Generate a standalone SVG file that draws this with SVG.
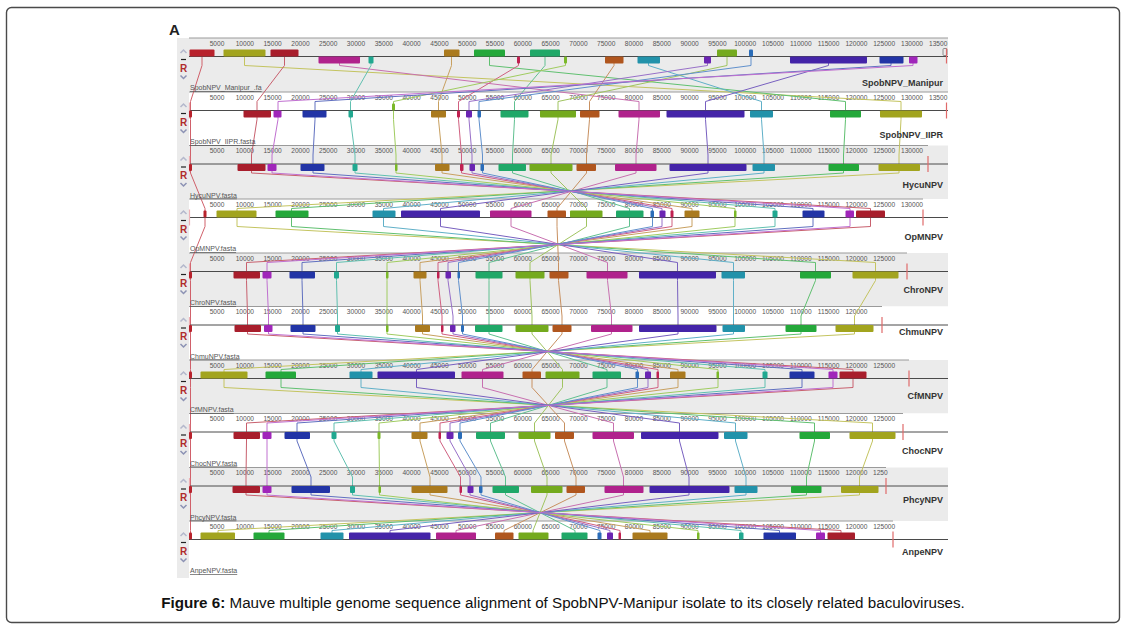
<svg xmlns="http://www.w3.org/2000/svg" xmlns:xlink="http://www.w3.org/1999/xlink" width="1126" height="631" viewBox="0 0 1126 631">
<style>
.bg-g{fill:#ebebeb}.bg-w{fill:#ffffff}
.seq{stroke:#4a4a4a;stroke-width:1}
.rul{stroke:#9a9a9a;stroke-width:1}
.tk{font-family:"Liberation Sans",Arial,sans-serif;font-size:6.6px;fill:#555;text-anchor:middle}
.tks{font-family:"Liberation Sans",Arial,sans-serif;font-size:6.6px;fill:#555;text-anchor:start}
.nm{font-family:"Liberation Sans",Arial,sans-serif;font-size:9px;font-weight:bold;fill:#333;text-anchor:end}
.fn{font-family:"Liberation Sans",Arial,sans-serif;font-size:7px;fill:#555;text-decoration:underline}
.end{stroke:#e06a6a;stroke-width:1.2}
.st{stroke:#efb0b4;stroke-width:1.2}
.up{fill:none;stroke:#b4b8cc;stroke-width:1.5}
.dn{fill:none;stroke:#8c92b4;stroke-width:1.5}
.mn{stroke:#222;stroke-width:1.2}
.rr{font-family:"Liberation Sans",Arial,sans-serif;font-size:10px;font-weight:bold;fill:#b02c2c;text-anchor:middle}
#connectors polyline{fill:none;stroke-width:1}
.lR0{stroke:#d0606a}.lOL{stroke:#c4c460}.lRD{stroke:#c8606e}.lMG{stroke:#c870b0}.lTL{stroke:#60c0b0}
.lGD{stroke:#c8a060}.lGN{stroke:#60c070}.lCR{stroke:#d06080}.lSG{stroke:#60c090}.lYG{stroke:#a0cc60}
.lBR{stroke:#c89060}.lCY{stroke:#60b0c8}.lPU{stroke:#9870c8}.lLM{stroke:#a0c460}.lLB{stroke:#6090cc}
.lBV{stroke:#7860c0}.lBL{stroke:#6070c0}.lVI{stroke:#c070d0}
.bR0{fill:#b8222c}.bOL{fill:#a2a41e}.bRD{fill:#a81e2c}.bMG{fill:#b0228c}.bTL{fill:#20a890}
.bGD{fill:#aa7a1e}.bGN{fill:#24a83a}.bCR{fill:#c02050}.bSG{fill:#20a868}.bYG{fill:#7ab828}
.bBR{fill:#b0561e}.bCY{fill:#2292aa}.bPU{fill:#6a24b2}.bLM{fill:#74aa1e}.bLB{fill:#2a6cb8}
.bBV{fill:#4424a8}.bBL{fill:#2234a6}.bVI{fill:#a026ba}
.blk rect{rx:1;height:7px}
</style>
<defs>
<g id="rl24">
<text class="tk" x="217">5000</text><text class="tk" x="244.8">10000</text><text class="tk" x="272.6">15000</text><text class="tk" x="300.4">20000</text><text class="tk" x="328.2">25000</text><text class="tk" x="356">30000</text><text class="tk" x="383.8">35000</text><text class="tk" x="411.6">40000</text><text class="tk" x="439.4">45000</text><text class="tk" x="467.2">50000</text><text class="tk" x="495">55000</text><text class="tk" x="522.8">60000</text><text class="tk" x="550.6">65000</text><text class="tk" x="578.4">70000</text><text class="tk" x="606.2">75000</text><text class="tk" x="634">80000</text><text class="tk" x="661.8">85000</text><text class="tk" x="689.6">90000</text><text class="tk" x="717.4">95000</text><text class="tk" x="745.2">100000</text><text class="tk" x="773">105000</text><text class="tk" x="800.8">110000</text><text class="tk" x="828.6">115000</text><text class="tk" x="856.4">120000</text>
</g>
<g id="ctl">
<polyline class="up" points="180.5,-3.5 183.5,-6.5 186.5,-3.5"/>
<line class="mn" x1="181" y1="3" x2="186" y2="3"/>
<text class="rr" x="183.5" y="15">R</text>
<polyline class="dn" points="180.5,19 183.5,22 186.5,19"/>
</g>
</defs>

<rect x="6.5" y="7.5" width="1113" height="615" rx="5" fill="#ffffff" stroke="#4a4a4a" stroke-width="1.4"/>
<text x="169" y="35" font-family="Liberation Sans, Arial, sans-serif" font-size="15" font-weight="bold" fill="#222">A</text>

<g id="panel-backgrounds">
<rect class="bg-g" x="177" y="38" width="771" height="54"/>
<rect class="bg-w" x="177" y="92" width="771" height="53.5"/>
<rect class="bg-g" x="177" y="145.5" width="771" height="53.5"/>
<rect class="bg-w" x="177" y="199" width="771" height="54"/>
<rect class="bg-g" x="177" y="253" width="771" height="53.5"/>
<rect class="bg-w" x="177" y="306.5" width="771" height="53.5"/>
<rect class="bg-g" x="177" y="360" width="771" height="53.5"/>
<rect class="bg-w" x="177" y="413.5" width="771" height="54"/>
<rect class="bg-g" x="177" y="467.5" width="771" height="53.5"/>
<rect class="bg-w" x="177" y="521" width="771" height="57"/>
<rect class="bg-g" x="177" y="38" width="12" height="540"/>
</g>

<g id="rulers">
<g transform="translate(0,56.5)"><line class="rul" x1="189" y1="-18.5" x2="948" y2="-18.5"/><use href="#rl24" y="-11"/><text class="tk" x="884.2" y="-11">125000</text><text class="tk" x="912" y="-11">130000</text><text class="tks" x="929" y="-11">13500</text></g>
<g transform="translate(0,110.5)"><line class="rul" x1="189" y1="-18.5" x2="948" y2="-18.5"/><use href="#rl24" y="-11"/><text class="tk" x="884.2" y="-11">125000</text><text class="tk" x="912" y="-11">130000</text><text class="tks" x="929" y="-11">13500</text></g>
<g transform="translate(0,164)"><line class="rul" x1="189" y1="-18.5" x2="928" y2="-18.5"/><use href="#rl24" y="-11"/><text class="tk" x="884.2" y="-11">125000</text><text class="tk" x="912" y="-11">130000</text></g>
<g transform="translate(0,217.5)"><line class="rul" x1="189" y1="-18.5" x2="923" y2="-18.5"/><use href="#rl24" y="-11"/><text class="tk" x="884.2" y="-11">125000</text><text class="tk" x="912" y="-11">130000</text></g>
<g transform="translate(0,271.5)"><line class="rul" x1="189" y1="-18.5" x2="907" y2="-18.5"/><use href="#rl24" y="-11"/><text class="tk" x="884.2" y="-11">125000</text></g>
<g transform="translate(0,325)"><line class="rul" x1="189" y1="-18.5" x2="882" y2="-18.5"/><use href="#rl24" y="-11"/></g>
<g transform="translate(0,378.5)"><line class="rul" x1="189" y1="-18.5" x2="909" y2="-18.5"/><use href="#rl24" y="-11"/><text class="tk" x="884.2" y="-11">125000</text></g>
<g transform="translate(0,432)"><line class="rul" x1="189" y1="-18.5" x2="903" y2="-18.5"/><use href="#rl24" y="-11"/><text class="tk" x="884.2" y="-11">125000</text></g>
<g transform="translate(0,486)"><line class="rul" x1="189" y1="-18.5" x2="886" y2="-18.5"/><use href="#rl24" y="-11"/><text class="tks" x="873" y="-11">1250</text></g>
<g transform="translate(0,539.5)"><line class="rul" x1="189" y1="-18.5" x2="893" y2="-18.5"/><use href="#rl24" y="-11"/><text class="tk" x="884.2" y="-11">125000</text></g>
</g>

<g id="connectors">
<polyline class="lR0" points="202,56.5 202,65.5 190.5,101.5 190.5,119.5 190.5,155 190.5,173 205,208.5 205,226.5 190.5,262.5 190.5,280.5 190.5,316 190.5,334 190.5,369.5 190.5,387.5 190.5,423 190.5,441 190.5,477 190.5,495 190.5,530.5 190.5,539.5"/>
<polyline class="lOL" points="244.5,56.5 244.5,65.5 901,101.5 901,119.5 899,155 899,173 237,208.5 237,226.5 875.5,262.5 875.5,280.5 854.5,316 854.5,334 224,369.5 224,387.5 872.5,423 872.5,441 859.5,477 859.5,495 218,530.5 218,539.5"/>
<polyline class="lRD" points="284.5,56.5 284.5,65.5 257,101.5 257,119.5 251.5,155 251.5,173 870.5,208.5 870.5,226.5 246.5,262.5 246.5,280.5 247.5,316 247.5,334 853,369.5 853,387.5 246.5,423 246.5,441 246,477 246,495 841,530.5 841,539.5"/>
<polyline class="lMG" points="339.5,56.5 339.5,65.5 639,101.5 639,119.5 636,155 636,173 511,208.5 511,226.5 607.5,262.5 607.5,280.5 611.5,316 611.5,334 482.5,369.5 482.5,387.5 613.5,423 613.5,441 623.5,477 623.5,495 456,530.5 456,539.5"/>
<polyline class="lTL" points="371,56.5 371,65.5 350.5,101.5 350.5,119.5 355,155 355,173 775,208.5 775,226.5 336.5,262.5 336.5,280.5 337.5,316 337.5,334 765,369.5 765,387.5 334,423 334,441 352.5,477 352.5,495 741,530.5 741,539.5"/>
<polyline class="lGD" points="451.5,56.5 451.5,65.5 438.5,101.5 438.5,119.5 442,155 442,173 692,208.5 692,226.5 420,262.5 420,280.5 422.5,316 422.5,334 678,369.5 678,387.5 420,423 420,441 430,477 430,495 650,530.5 650,539.5"/>
<polyline class="lGN" points="489.5,56.5 489.5,65.5 845.5,101.5 845.5,119.5 843.5,155 843.5,173 291.5,208.5 291.5,226.5 815.5,262.5 815.5,280.5 801,316 801,334 281,369.5 281,387.5 814.5,423 814.5,441 806.5,477 806.5,495 269,530.5 269,539.5"/>
<polyline class="lCR" points="518.5,56.5 518.5,65.5 458.5,101.5 458.5,119.5 461.5,155 461.5,173 672,208.5 672,226.5 438,262.5 438,280.5 442,316 442,334 658,369.5 658,387.5 440,423 440,441 460.5,477 460.5,495 620,530.5 620,539.5"/>
<polyline class="lSG" points="545,56.5 545,65.5 514.5,101.5 514.5,119.5 512.5,155 512.5,173 629.5,208.5 629.5,226.5 489,262.5 489,280.5 489,316 489,334 607,369.5 607,387.5 490.5,423 490.5,441 505.5,477 505.5,495 575,530.5 575,539.5"/>
<polyline class="lYG" points="565.5,56.5 565.5,65.5 393.5,101.5 393.5,119.5 396,155 396,173 735,208.5 735,226.5 387,262.5 387,280.5 387,316 387,334 718,369.5 718,387.5 379,423 379,441 379.5,477 379.5,495 698,530.5 698,539.5"/>
<polyline class="lBR" points="614,56.5 614,65.5 589.5,101.5 589.5,119.5 586.5,155 586.5,173 557,208.5 557,226.5 558.5,262.5 558.5,280.5 562,316 562,334 532,369.5 532,387.5 564.5,423 564.5,441 576,477 576,495 504,530.5 504,539.5"/>
<polyline class="lCY" points="648.5,56.5 648.5,65.5 761.5,101.5 761.5,119.5 764,155 764,173 383.5,208.5 383.5,226.5 733.5,262.5 733.5,280.5 733.5,316 733.5,334 361,369.5 361,387.5 735.5,423 735.5,441 746,477 746,495 332,530.5 332,539.5"/>
<polyline class="lPU" points="707.5,56.5 707.5,65.5 469,101.5 469,119.5 472,155 472,173 662,208.5 662,226.5 448,262.5 448,280.5 453,316 453,334 648,369.5 648,387.5 450,423 450,441 470,477 470,495 610,530.5 610,539.5"/>
<polyline class="lLM" points="727,56.5 727,65.5 558,101.5 558,119.5 551,155 551,173 586.5,208.5 586.5,226.5 530,262.5 530,280.5 532,316 532,334 562.5,369.5 562.5,387.5 534.5,423 534.5,441 547,477 547,495 533,530.5 533,539.5"/>
<polyline class="lLB" points="751,56.5 751,65.5 479,101.5 479,119.5 482.5,155 482.5,173 652.5,208.5 652.5,226.5 458.5,262.5 458.5,280.5 462.5,316 462.5,334 637.5,369.5 637.5,387.5 460,423 460,441 481,477 481,495 600,530.5 600,539.5"/>
<polyline class="lBV" points="828.5,56.5 828.5,65.5 705.5,101.5 705.5,119.5 708,155 708,173 440.5,208.5 440.5,226.5 677.5,262.5 677.5,280.5 678,316 678,334 416.5,369.5 416.5,387.5 679.5,423 679.5,441 689,477 689,495 390,530.5 390,539.5"/>
<polyline class="lBL" points="891,56.5 891,65.5 315,101.5 315,119.5 313,155 313,173 813,208.5 813,226.5 302,262.5 302,280.5 303,316 303,334 802,369.5 802,387.5 297,423 297,441 311,477 311,495 779.5,530.5 779.5,539.5"/>
<polyline class="lVI" points="913,56.5 913,65.5 278,101.5 278,119.5 272,155 272,173 850,208.5 850,226.5 267,262.5 267,280.5 268.5,316 268.5,334 833,369.5 833,387.5 267,423 267,441 267,477 267,495 820.5,530.5 820.5,539.5"/>
</g>

<g id="genome-spobnpv-manipur" class="blk" transform="translate(0,56.5)">
<line class="seq" x1="189" y1="0" x2="948" y2="0"/>
<use href="#ctl"/>
<rect class="bR0" x="189.5" y="-7" width="25"/><rect class="bOL" x="223.5" y="-7" width="42"/><rect class="bRD" x="270.5" y="-7" width="28"/><rect class="bGD" x="444" y="-7" width="15.5"/><rect class="bGN" x="474" y="-7" width="31"/><rect class="bSG" x="530" y="-7" width="30"/><rect class="bLM" x="717" y="-7" width="20"/><rect class="bLB" x="749" y="-7" width="4"/>
<rect class="bMG" x="318.5" y="0" width="41.5"/><rect class="bTL" x="368.5" y="0" width="5"/><rect class="bCR" x="517" y="0" width="3"/><rect class="bYG" x="564" y="0" width="3"/><rect class="bBR" x="605" y="0" width="18.5"/><rect class="bCY" x="637.5" y="0" width="22.5"/><rect class="bPU" x="704" y="0" width="7"/><rect class="bBV" x="790" y="0" width="77"/><rect class="bBL" x="879.5" y="0" width="24"/><rect class="bVI" x="909" y="0" width="8.5"/>
<rect x="943" y="-8" width="4" height="15" fill="none" stroke="#777" stroke-width="0.8"/><line class="end" x1="946.5" y1="-8" x2="946.5" y2="7"/>
<text class="nm" x="943" y="29.5">SpobNPV_Manipur</text>
<text class="fn" x="190" y="33.5">SpobNPV_Manipur_.fa</text>
</g>

<g id="genome-spobnpv-iipr" class="blk" transform="translate(0,110.5)">
<line class="seq" x1="189" y1="0" x2="948" y2="0"/>
<use href="#ctl"/>
<line class="st" x1="189.5" y1="-8" x2="189.5" y2="8"/>
<rect class="bR0" x="189" y="0" width="3"/><rect class="bRD" x="243.5" y="0" width="27.5"/><rect class="bVI" x="273.5" y="0" width="8"/><rect class="bBL" x="302.5" y="0" width="24"/><rect class="bTL" x="348.5" y="0" width="4.5"/><rect class="bYG" x="392" y="-7" width="3"/><rect class="bGD" x="431" y="0" width="15"/><rect class="bCR" x="457" y="0" width="3"/><rect class="bPU" x="466" y="0" width="6"/><rect class="bLB" x="477.5" y="0" width="3.5"/><rect class="bSG" x="500.5" y="0" width="28"/><rect class="bLM" x="540" y="0" width="36"/><rect class="bBR" x="580" y="0" width="19.5"/><rect class="bMG" x="618.5" y="0" width="41.5"/><rect class="bBV" x="666.5" y="0" width="78"/><rect class="bCY" x="750" y="0" width="23"/><rect class="bGN" x="830" y="0" width="31"/><rect class="bOL" x="880" y="0" width="42"/>
<line class="end" x1="946.5" y1="-8" x2="946.5" y2="8"/>
<text class="nm" x="943" y="27">SpobNPV_IIPR</text>
<text class="fn" x="190" y="33.5">SpobNPV_IIPR.fasta</text>
</g>

<g id="genome-hycunpv" class="blk" transform="translate(0,164)">
<line class="seq" x1="189" y1="0" x2="948" y2="0"/>
<use href="#ctl"/>
<line class="st" x1="189.5" y1="-8" x2="189.5" y2="8"/>
<rect class="bR0" x="189" y="0" width="3"/><rect class="bRD" x="237.5" y="0" width="28"/><rect class="bVI" x="267.5" y="0" width="9"/><rect class="bBL" x="300.5" y="0" width="24"/><rect class="bTL" x="352.5" y="0" width="5"/><rect class="bYG" x="395" y="0" width="2.5"/><rect class="bGD" x="435" y="0" width="14.5"/><rect class="bCR" x="460" y="0" width="3.5"/><rect class="bPU" x="469.5" y="0" width="5.5"/><rect class="bLB" x="480.5" y="0" width="3.5"/><rect class="bSG" x="498.5" y="0" width="27.5"/><rect class="bLM" x="529.5" y="0" width="43"/><rect class="bBR" x="576.5" y="0" width="19.5"/><rect class="bMG" x="615" y="0" width="41.5"/><rect class="bBV" x="669.5" y="0" width="77"/><rect class="bCY" x="752.5" y="0" width="22.5"/><rect class="bGN" x="828.5" y="0" width="30.5"/><rect class="bOL" x="878.5" y="0" width="41.5"/>
<line class="end" x1="928" y1="-8" x2="928" y2="8"/>
<text class="nm" x="943" y="24">HycuNPV</text>
<text class="fn" x="190" y="33.5">HycuNPV.fasta</text>
</g>

<g id="genome-opmnpv" class="blk" transform="translate(0,217.5)">
<line class="seq" x1="189" y1="0" x2="948" y2="0"/>
<use href="#ctl"/>
<line class="st" x1="189.5" y1="-8" x2="189.5" y2="8"/>
<rect class="bR0" x="203.5" y="-7" width="3"/><rect class="bOL" x="216.5" y="-7" width="40"/><rect class="bGN" x="275.5" y="-7" width="33"/><rect class="bCY" x="372.5" y="-7" width="23"/><rect class="bBV" x="401" y="-7" width="79"/><rect class="bMG" x="490" y="-7" width="41.5"/><rect class="bBR" x="547.5" y="-7" width="18.5"/><rect class="bLM" x="570" y="-7" width="32.5"/><rect class="bSG" x="616" y="-7" width="27.5"/><rect class="bLB" x="650.5" y="-7" width="3.5"/><rect class="bPU" x="659.5" y="-7" width="6"/><rect class="bCR" x="670.5" y="-7" width="3"/><rect class="bGD" x="684.5" y="-7" width="15"/><rect class="bYG" x="734" y="-7" width="2.5"/><rect class="bTL" x="772.5" y="-7" width="5"/><rect class="bBL" x="802.5" y="-7" width="22"/><rect class="bVI" x="845.5" y="-7" width="8.5"/><rect class="bRD" x="856" y="-7" width="29"/>
<line class="end" x1="923" y1="-8" x2="923" y2="8"/>
<text class="nm" x="943" y="22.5">OpMNPV</text>
<text class="fn" x="190" y="33.5">OpMNPV.fasta</text>
</g>

<g id="genome-chronpv" class="blk" transform="translate(0,271.5)">
<line class="seq" x1="189" y1="0" x2="948" y2="0"/>
<use href="#ctl"/>
<line class="st" x1="189.5" y1="-8" x2="189.5" y2="8"/>
<rect class="bR0" x="189" y="0" width="3"/><rect class="bRD" x="233.5" y="0" width="26.5"/><rect class="bVI" x="262.5" y="0" width="9"/><rect class="bBL" x="289.5" y="0" width="25.5"/><rect class="bTL" x="334" y="0" width="5"/><rect class="bYG" x="386" y="0" width="2.5"/><rect class="bGD" x="413.5" y="0" width="13"/><rect class="bCR" x="437" y="0" width="2.5"/><rect class="bPU" x="445.5" y="0" width="5.5"/><rect class="bLB" x="457.5" y="0" width="2.5"/><rect class="bSG" x="475.5" y="0" width="27"/><rect class="bLM" x="515.5" y="0" width="29"/><rect class="bBR" x="549.5" y="0" width="19"/><rect class="bMG" x="586.5" y="0" width="41"/><rect class="bBV" x="639" y="0" width="77"/><rect class="bCY" x="721.5" y="0" width="23.5"/><rect class="bGN" x="800" y="0" width="31"/><rect class="bOL" x="852.5" y="0" width="46"/>
<line class="end" x1="907" y1="-8" x2="907" y2="8"/>
<text class="nm" x="943" y="21.5">ChroNPV</text>
<text class="fn" x="190" y="33.5">ChroNPV.fasta</text>
</g>

<g id="genome-chmunpv" class="blk" transform="translate(0,325)">
<line class="seq" x1="189" y1="0" x2="948" y2="0"/>
<use href="#ctl"/>
<line class="st" x1="189.5" y1="-8" x2="189.5" y2="8"/>
<rect class="bR0" x="189" y="0" width="3"/><rect class="bRD" x="234.5" y="0" width="26.5"/><rect class="bVI" x="264" y="0" width="8.5"/><rect class="bBL" x="290.5" y="0" width="25"/><rect class="bTL" x="335" y="0" width="5"/><rect class="bYG" x="386" y="0" width="2.5"/><rect class="bGD" x="415" y="0" width="15"/><rect class="bCR" x="441" y="0" width="2.5"/><rect class="bPU" x="450" y="0" width="5.5"/><rect class="bLB" x="461" y="0" width="3"/><rect class="bSG" x="475" y="0" width="27.5"/><rect class="bLM" x="515.5" y="0" width="33"/><rect class="bBR" x="552.5" y="0" width="19"/><rect class="bMG" x="591" y="0" width="41.5"/><rect class="bBV" x="639" y="0" width="77.5"/><rect class="bCY" x="722.5" y="0" width="22.5"/><rect class="bGN" x="785.5" y="0" width="31"/><rect class="bOL" x="835.5" y="0" width="38"/>
<line class="end" x1="882" y1="-8" x2="882" y2="8"/>
<text class="nm" x="943" y="10">ChmuNPV</text>
<text class="fn" x="190" y="33.5">ChmuNPV.fasta</text>
</g>

<g id="genome-cfmnpv" class="blk" transform="translate(0,378.5)">
<line class="seq" x1="189" y1="0" x2="948" y2="0"/>
<use href="#ctl"/>
<rect class="bR0" x="189" y="-7" width="3"/><rect class="bOL" x="200.5" y="-7" width="47"/><rect class="bGN" x="265.5" y="-7" width="30.5"/><rect class="bCY" x="349.5" y="-7" width="23"/><rect class="bBV" x="377.5" y="-7" width="77.5"/><rect class="bMG" x="461.5" y="-7" width="42"/><rect class="bBR" x="522.5" y="-7" width="18.5"/><rect class="bLM" x="545.5" y="-7" width="34"/><rect class="bSG" x="592.5" y="-7" width="28.5"/><rect class="bLB" x="635.5" y="-7" width="3.5"/><rect class="bPU" x="645" y="-7" width="6"/><rect class="bCR" x="656.5" y="-7" width="2.5"/><rect class="bGD" x="670" y="-7" width="15.5"/><rect class="bYG" x="716.5" y="-7" width="2.5"/><rect class="bTL" x="762.5" y="-7" width="5"/><rect class="bBL" x="789.5" y="-7" width="25"/><rect class="bVI" x="828.5" y="-7" width="9"/><rect class="bRD" x="839.5" y="-7" width="27"/>
<line class="end" x1="909" y1="-8" x2="909" y2="8"/>
<text class="nm" x="943" y="20.5">CfMNPV</text>
<text class="fn" x="190" y="33.5">CfMNPV.fasta</text>
</g>

<g id="genome-chocnpv" class="blk" transform="translate(0,432)">
<line class="seq" x1="189" y1="0" x2="948" y2="0"/>
<use href="#ctl"/>
<line class="st" x1="189.5" y1="-8" x2="189.5" y2="8"/>
<rect class="bR0" x="189" y="0" width="3"/><rect class="bRD" x="233.5" y="0" width="26.5"/><rect class="bVI" x="262.5" y="0" width="9"/><rect class="bBL" x="284.5" y="0" width="25.5"/><rect class="bTL" x="331.5" y="0" width="5"/><rect class="bYG" x="377.5" y="0" width="3"/><rect class="bGD" x="411.5" y="0" width="16"/><rect class="bCR" x="438.5" y="0" width="2.5"/><rect class="bPU" x="446.5" y="0" width="7"/><rect class="bLB" x="458" y="0" width="4"/><rect class="bSG" x="476" y="0" width="29"/><rect class="bLM" x="518.5" y="0" width="32"/><rect class="bBR" x="555" y="0" width="19"/><rect class="bMG" x="592.5" y="0" width="41.5"/><rect class="bBV" x="641" y="0" width="77.5"/><rect class="bCY" x="724" y="0" width="23.5"/><rect class="bGN" x="799.5" y="0" width="30.5"/><rect class="bOL" x="849.5" y="0" width="46"/>
<line class="end" x1="903" y1="-8" x2="903" y2="8"/>
<text class="nm" x="943" y="22">ChocNPV</text>
<text class="fn" x="190" y="33.5">ChocNPV.fasta</text>
</g>

<g id="genome-phcynpv" class="blk" transform="translate(0,486)">
<line class="seq" x1="189" y1="0" x2="948" y2="0"/>
<use href="#ctl"/>
<line class="st" x1="189.5" y1="-8" x2="189.5" y2="8"/>
<rect class="bR0" x="189" y="0" width="3"/><rect class="bRD" x="232.5" y="0" width="27.5"/><rect class="bVI" x="262.5" y="0" width="9"/><rect class="bBL" x="291.5" y="0" width="38.5"/><rect class="bTL" x="350" y="0" width="5"/><rect class="bYG" x="378.5" y="0" width="2.5"/><rect class="bGD" x="411.5" y="0" width="36"/><rect class="bCR" x="459.5" y="0" width="2.5"/><rect class="bPU" x="467.5" y="0" width="6"/><rect class="bLB" x="479" y="0" width="3.5"/><rect class="bSG" x="492.5" y="0" width="26.5"/><rect class="bLM" x="531" y="0" width="31.5"/><rect class="bBR" x="566.5" y="0" width="18.5"/><rect class="bMG" x="604.5" y="0" width="39"/><rect class="bBV" x="649.5" y="0" width="80"/><rect class="bCY" x="734.5" y="0" width="23"/><rect class="bGN" x="791" y="0" width="30.5"/><rect class="bOL" x="841" y="0" width="37.5"/>
<line class="end" x1="886" y1="-8" x2="886" y2="8"/>
<text class="nm" x="943" y="17">PhcyNPV</text>
<text class="fn" x="190" y="33.5">PhcyNPV.fasta</text>
</g>

<g id="genome-anpenpv" class="blk" transform="translate(0,539.5)">
<line class="seq" x1="189" y1="0" x2="948" y2="0"/>
<use href="#ctl"/>
<rect class="bR0" x="189" y="-7" width="3"/><rect class="bOL" x="200.5" y="-7" width="34.5"/><rect class="bGN" x="253.5" y="-7" width="31"/><rect class="bCY" x="320.5" y="-7" width="23"/><rect class="bBV" x="349" y="-7" width="81.5"/><rect class="bMG" x="436" y="-7" width="40"/><rect class="bBR" x="495" y="-7" width="18.5"/><rect class="bLM" x="518.5" y="-7" width="30"/><rect class="bSG" x="561.5" y="-7" width="26"/><rect class="bLB" x="597.5" y="-7" width="4"/><rect class="bPU" x="607" y="-7" width="6"/><rect class="bCR" x="618.5" y="-7" width="2.5"/><rect class="bGD" x="632.5" y="-7" width="35"/><rect class="bYG" x="697" y="-7" width="2.5"/><rect class="bTL" x="739" y="-7" width="4.5"/><rect class="bBL" x="763.5" y="-7" width="32.5"/><rect class="bVI" x="816" y="-7" width="9"/><rect class="bRD" x="827.5" y="-7" width="27.5"/>
<line class="end" x1="893" y1="-8" x2="893" y2="8"/>
<text class="nm" x="943" y="15.5">AnpeNPV</text>
<text class="fn" x="190" y="33.5">AnpeNPV.fasta</text>
</g>

<text x="563" y="608" text-anchor="middle" font-family="Liberation Sans, Arial, sans-serif" font-size="15.2" fill="#111"><tspan font-weight="bold">Figure 6:</tspan> Mauve multiple genome sequence alignment of SpobNPV-Manipur isolate to its closely related baculoviruses.</text>
</svg>
